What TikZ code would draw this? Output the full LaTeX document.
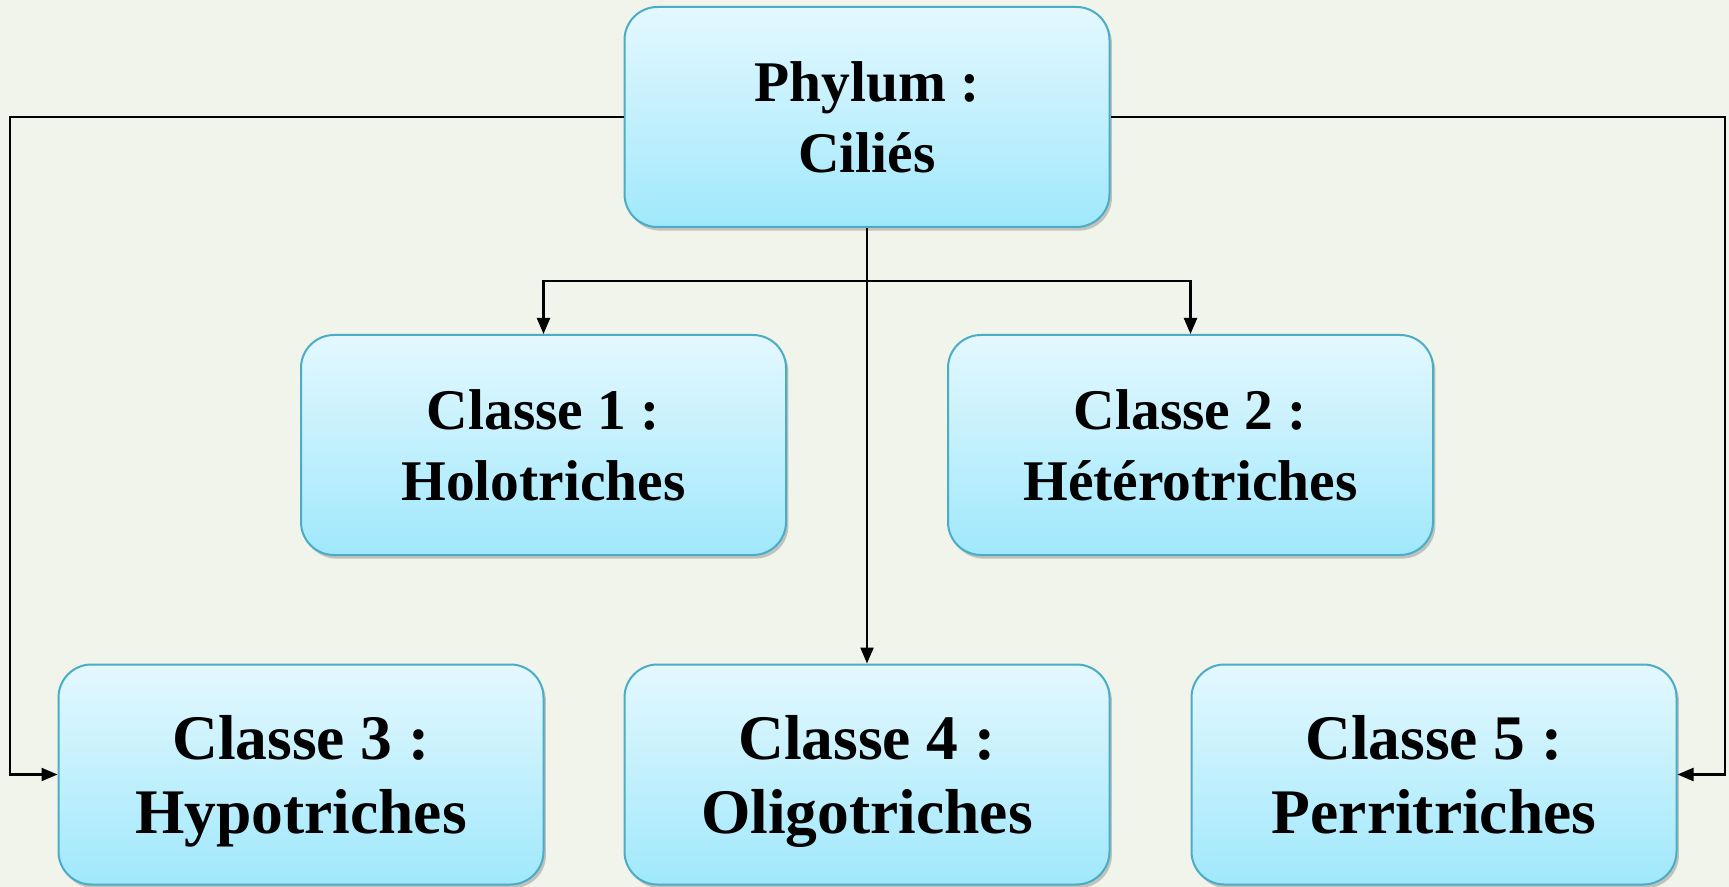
\documentclass[tikz,border=0pt]{standalone}
\usepackage{fontspec}
\setmainfont{Liberation Serif}
\usetikzlibrary{arrows.meta,shadows}
\definecolor{bg}{RGB}{241,244,234}
\definecolor{boxtop}{RGB}{228,248,254}
\definecolor{boxbot}{RGB}{160,232,252}
\definecolor{boxedge}{RGB}{75,172,198}

\begin{document}
\begin{tikzpicture}[x=0.5pt,y=-0.5pt,
  taxon/.style={draw=boxedge, line width=1pt, rounded corners=16.5pt,
    top color=boxtop, bottom color=boxbot,
    minimum width=242.5pt, minimum height=110pt, inner sep=0pt,
    align=center, text depth=0pt,
    font=\bfseries\fontsize{28.75}{35.5}\selectfont,
    drop shadow={shadow xshift=1.2pt, shadow yshift=-1.8pt, opacity=0.35, fill=black!60}},
  bigtaxon/.style={taxon, font=\bfseries\fontsize{31.75}{37}\selectfont},
  link/.style={line width=1.1pt, -{Triangle[length=8pt,width=6.5pt]}},
]
\fill[bg] (0,0) rectangle (1729,887);
\useasboundingbox (0,0) rectangle (1729,887);

% taxonomy boxes
\node[taxon] (phylum) at (867,117) {Phylum :\\Ciliés};
\node[taxon] (c1) at (543.5,445) {Classe 1 :\\Holotriches};
\node[taxon] (c2) at (1190.5,445) {Classe 2 :\\Hétérotriches};
\node[bigtaxon] (c3) at (301,774.5) {Classe 3 :\\Hypotriches};
\node[bigtaxon] (c4) at (867,774.5) {Classe 4 :\\Oligotriches};
\node[bigtaxon] (c5) at (1434,774.5) {Classe 5 :\\Perritriches};

% routing points
\coordinate (fork) at (867,281);
\coordinate (leftrail) at (10,117);
\coordinate (rightrail) at (1725,117);

% connectors
\draw[link] (phylum.south) -- (c4.north);
\draw[link] (fork) -| (c1.north);
\draw[link] (fork) -| (c2.north);
\draw[link] (phylum.west) -- (leftrail) |- (c3.west);
\draw[link] (phylum.east) -- (rightrail) |- (c5.east);
\end{tikzpicture}
\end{document}
